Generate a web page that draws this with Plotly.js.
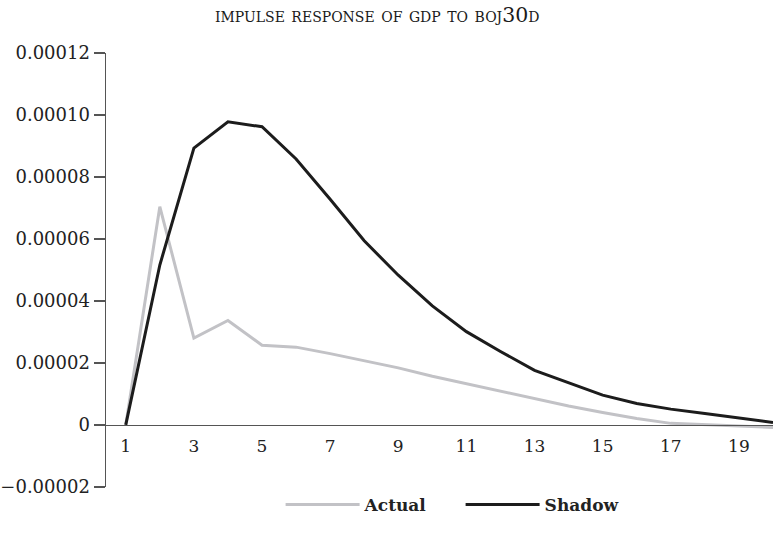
<!DOCTYPE html>
<html>
<head>
<meta charset="utf-8">
<script src="https://cdn.plot.ly/plotly-3.0.1.min.js"></script>
<style>
  html, body { margin: 0; padding: 0; background: #ffffff; }
  #chart { width: 773px; height: 536px; }
</style>
</head>
<body>
<div id="chart"></div>
<script>
// Horizon (periods after the shock)
const periods = [1, 2, 3, 4, 5, 6, 7, 8, 9, 10, 11, 12, 13, 14, 15, 16, 17, 18, 19, 20];

// Impulse response of GDP, actual policy rate
const actualResponse = [0, 0.0000704, 0.0000280, 0.0000337, 0.0000257, 0.0000251, 0.0000230, 0.0000207,
  0.0000184, 0.0000157, 0.0000133, 0.0000108, 0.0000084, 0.0000061, 0.0000040, 0.0000021,
  0.0000005, 0.0000000, -0.0000005, -0.0000008];

// Impulse response of GDP, shadow rate
const shadowResponse = [0, 0.0000516, 0.0000893, 0.0000978, 0.0000962, 0.0000858, 0.0000728, 0.0000594,
  0.0000483, 0.0000384, 0.0000301, 0.0000237, 0.0000176, 0.0000135, 0.0000096, 0.0000069,
  0.0000051, 0.0000037, 0.0000022, 0.0000008];

// Axis ticks
const yTickValues = [-0.00002, 0, 0.00002, 0.00004, 0.00006, 0.00008, 0.00010, 0.00012];
const yTickLabels = ["\u22120.00002", "0", "0.00002", "0.00004", "0.00006", "0.00008", "0.00010", "0.00012"];
const xTickValues = [1, 3, 5, 7, 9, 11, 13, 15, 17, 19];

const yRange = [-0.00002, 0.00012];
const serif = "'DejaVu Serif', 'Liberation Serif', serif";
const axisColor = "#555555";
const textColor = "#222222";

const traces = [
  {
    x: periods, y: actualResponse, name: "Actual", type: "scatter", mode: "lines",
    line: { color: "#c2c2c6", width: 3 }
  },
  {
    x: periods, y: shadowResponse, name: "Shadow", type: "scatter", mode: "lines",
    line: { color: "#1c1c1c", width: 3 }
  }
];

const layout = {
  width: 773,
  height: 536,
  paper_bgcolor: "#ffffff",
  plot_bgcolor: "#ffffff",
  margin: { l: 106, r: 0, t: 53, b: 47 },
  font: { family: serif, size: 18, color: textColor },
  title: {
    text: "impulse response of gdp to boj30d",
    font: { family: serif, size: 20.5, color: "#1a1a1a", variant: "small-caps" },
    xref: "container", x: 0.488, xanchor: "center",
    yref: "container", y: 0.972, yanchor: "middle"
  },
  xaxis: {
    range: [0.42, 20],
    tickvals: xTickValues,
    ticks: "",
    showgrid: false,
    zeroline: false,
    showline: true,
    linecolor: axisColor,
    linewidth: 1.5,
    anchor: "free",
    // place the horizontal axis at y = 0
    position: (0 - yRange[0]) / (yRange[1] - yRange[0]),
    ticklabelstandoff: 5,
    tickfont: { family: serif, size: 17, color: textColor }
  },
  yaxis: {
    range: yRange,
    tickvals: yTickValues,
    ticktext: yTickLabels,
    ticks: "outside",
    ticklen: 11,
    tickwidth: 1.5,
    tickcolor: axisColor,
    showgrid: false,
    zeroline: false,
    showline: true,
    linecolor: axisColor,
    linewidth: 1.5,
    tickfont: { family: serif, size: 18, color: textColor }
  },
  showlegend: true,
  legend: {
    orientation: "h",
    xref: "container", x: 0.363, xanchor: "left",
    yref: "container", y: 0.058, yanchor: "middle",
    font: { family: serif, size: 17, color: textColor, weight: "bold" },
    itemwidth: 74,
    entrywidth: 91,
    entrywidthmode: "pixels",
    bgcolor: "rgba(0,0,0,0)"
  }
};

Plotly.newPlot("chart", traces, layout, { displayModeBar: false, staticPlot: true });
</script>
</body>
</html>
